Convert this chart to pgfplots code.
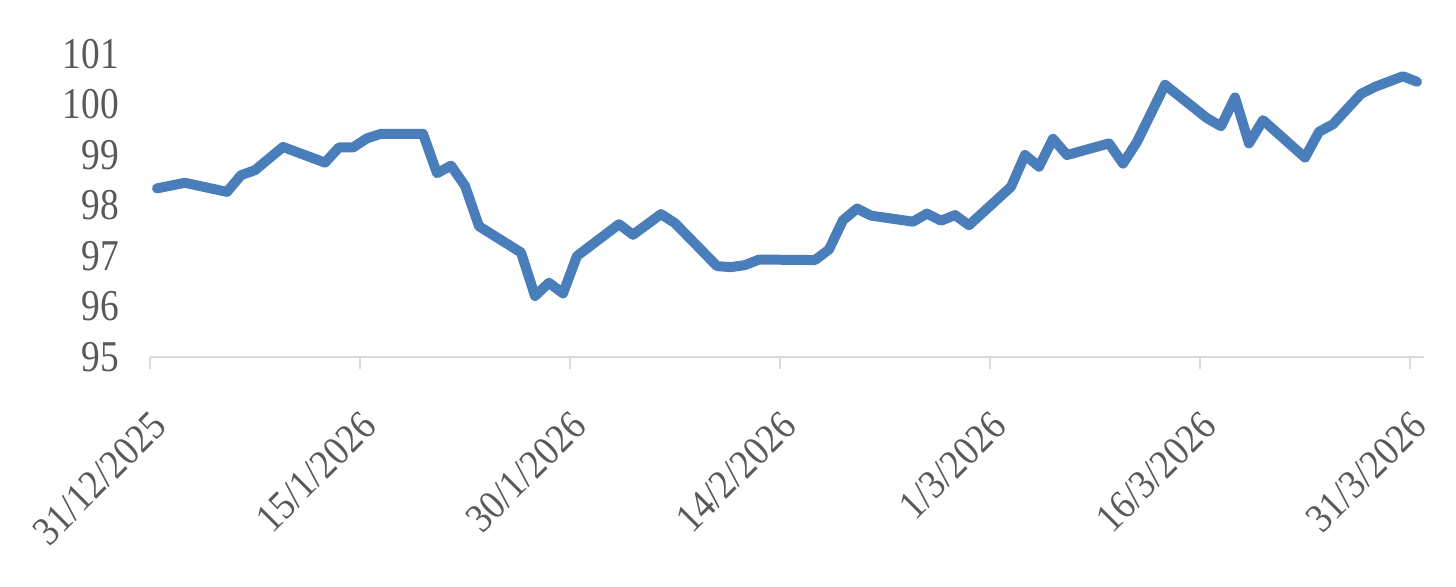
\documentclass[border=0pt]{standalone}
\usepackage{fontspec}
\setmainfont{Liberation Serif}
\newfontfamily\ylabfont[FakeStretch=0.85]{Liberation Serif}
\newfontfamily\xlabfont[FakeStretch=0.9]{Liberation Serif}
\usepackage{pgfplots}
\pgfplotsset{compat=1.18}
\definecolor{lineblue}{HTML}{4A7EBB}
\definecolor{labelgray}{HTML}{595959}
\definecolor{axisgray}{HTML}{D9D9D9}

\begin{document}
\begin{tikzpicture}
\useasboundingbox (-75pt,-114.5pt) rectangle (653pt,178.5pt);
\begin{axis}[
    scale only axis,
    width=637pt, height=151.5pt,
    xmin=0, xmax=91,
    ymin=95, ymax=101,
    xtick={0,15,30,45,60,75,90},
    xticklabels={31/12/2025,15/1/2026,30/1/2026,14/2/2026,1/3/2026,16/3/2026,31/3/2026},
    ytick={95,96,...,101},
    axis x line*=bottom,
    axis y line*=left,
    y axis line style={draw=none},
    x axis line style={axisgray, line width=1.3pt, -},
    xtick style={axisgray, line width=1.3pt},
    ytick style={draw=none},
    tick align=outside,
    major tick length=6pt,
    /pgf/number format/assume math mode=true,
    ticklabel style={text=labelgray},
    yticklabel style={font=\ylabfont\fontsize{22}{24}\selectfont, xshift=-6pt},
    xticklabel style={font=\xlabfont\fontsize{20.5}{22}\selectfont,
        xshift=-0.5pt, yshift=-15pt, rotate=45, anchor=north east},
]
\addplot[color=lineblue, line width=5pt, line join=round, line cap=round] coordinates {
(0.5,98.34) (2.5,98.45) (5.5,98.27) (6.5,98.60) (7.5,98.70) (8.5,98.93) (9.5,99.16)
(12.5,98.85) (13.5,99.15) (14.5,99.15) (15.5,99.33) (16.5,99.42) (19.5,99.42)
(20.5,98.64) (21.5,98.79) (22.5,98.39) (23.5,97.59) (26.5,97.07) (27.5,96.21)
(28.5,96.47) (29.5,96.26) (30.5,97.00) (33.5,97.63) (34.5,97.42) (36.5,97.83)
(37.5,97.65) (40.5,96.80) (41.5,96.78) (42.5,96.82) (43.5,96.93) (47.5,96.92)
(48.5,97.13) (49.5,97.71) (50.5,97.94) (51.5,97.80) (54.5,97.68) (55.5,97.84)
(56.5,97.70) (57.5,97.81) (58.5,97.61) (61.5,98.37) (62.5,99.00) (63.5,98.77)
(64.5,99.32) (65.5,99.00) (68.5,99.23) (69.5,98.83) (70.5,99.26) (72.5,100.39)
(75.5,99.73) (76.5,99.57) (77.5,100.14) (78.5,99.23) (79.5,99.69) (82.5,98.95)
(83.5,99.46) (84.5,99.61) (86.5,100.21) (87.5,100.35) (89.5,100.56) (90.5,100.45)
};
\end{axis}
\end{tikzpicture}
\end{document}
